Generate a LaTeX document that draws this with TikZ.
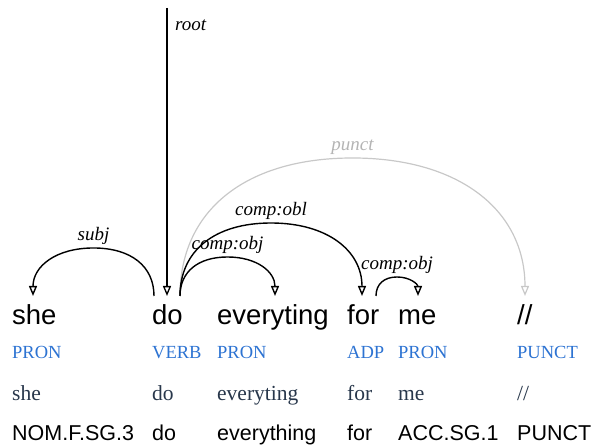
\documentclass[tikz,border=0pt]{standalone}
\usepackage{fontspec}
\usepackage{graphicx}
\setmainfont{Liberation Serif}
\newfontfamily\arialfont{Liberation Sans}
\usetikzlibrary{arrows.meta}

\definecolor{posblue}{RGB}{45,115,210}
\definecolor{lemmacol}{RGB}{40,55,75}
\definecolor{punctline}{RGB}{200,200,200}
\definecolor{punctlabel}{RGB}{180,180,180}

% dependency arc: [style]{from}{to}{half width}{height}{label}{label name}
\newcommand\deparc[7][]{%
  \draw[dep,#1] (#2) .. controls +(0,{0.62*#5}) and +({-0.62*#4},0) .. ++(#4,#5) coordinate (#7-top)
     .. controls +({0.62*#4},0) and +(0,{0.62*#5}) .. (#3);
  \node[rel,#1] (#7) at ([yshift=7]#7-top) {#6};
}

\begin{document}
\begin{tikzpicture}[x=1pt,y=1pt,
  wordform/.style={anchor=base west, inner sep=0pt, font=\arialfont\fontsize{27.5}{30}\selectfont},
  postag/.style={anchor=base west, inner sep=0pt, text=posblue, font=\fontsize{18.5}{20}\selectfont},
  lemmatag/.style={anchor=base west, inner sep=0pt, text=lemmacol, font=\fontsize{21.5}{23}\selectfont},
  feattag/.style={anchor=base west, inner sep=0pt, font=\arialfont\fontsize{21.5}{23}\selectfont},
  rel/.style={anchor=base, inner sep=0pt, font=\itshape\fontsize{19}{20}\selectfont},
  dep/.style={line width=1.4pt, -{Triangle[open,length=10pt,width=8pt]}},
  grayarc/.style={color=punctline, line width=1.2pt},
]
\useasboundingbox (0,0) rectangle (595,446);

% word forms
\node[wordform] (w1) at (12,121) {she};
\node[wordform] (w2) at (152,121) {do};
\node[wordform] (w3) at (217,121) {everyting};
\node[wordform] (w4) at (347,121) {for};
\node[wordform] (w5) at (398,121) {me};
\node[wordform] (w6) at (517,121) {//};

% parts of speech
\node[postag] (p1) at (12,87) {PRON};
\node[postag] (p2) at (152,87) {VERB};
\node[postag] (p3) at (217,87) {PRON};
\node[postag] (p4) at (347,87) {ADP};
\node[postag] (p5) at (398,87) {PRON};
\node[postag] (p6) at (517,87) {PUNCT};

% lemmas
\node[lemmatag] (l1) at (12,45) {she};
\node[lemmatag] (l2) at (152,45) {do};
\node[lemmatag] (l3) at (217,45) {everyting};
\node[lemmatag] (l4) at (347,45) {for};
\node[lemmatag] (l5) at (398,45) {me};
\node[lemmatag] (l6) at (517,45) {//};

% features
\node[feattag] (f1) at (12,5) {NOM.F.SG.3};
\node[feattag] (f2) at (152,5) {do};
\node[feattag] (f3) at (217,5) {everything};
\node[feattag] (f4) at (347,5) {for};
\node[feattag] (f5) at (398,5) {ACC.SG.1};
\node[feattag] (f6) at (517,5) {PUNCT};

% attachment points above the words
\coordinate (she-in) at (33,150);
\coordinate (do-l) at (154,150);
\coordinate (do-in) at (167,150);
\coordinate (do-r) at (180,150);
\coordinate (ev-in) at (275,150);
\coordinate (for-in) at (362,150);
\coordinate (for-r) at (376,150);
\coordinate (me-in) at (418,150);
\coordinate (sl-in) at (525,150);
\coordinate (root-top) at (167,438);

% root
\draw[dep, line width=1.3pt] (root-top) -- (do-in);
\node[rel, anchor=base west] (rootlbl) at (175,415) {root};

% arcs
\deparc[grayarc, text=punctlabel]{do-r}{sl-in}{172.5}{138}{punct}{lpunct}
\deparc{do-l}{she-in}{-60.5}{48}{subj}{lsubj}
\deparc{do-r}{for-in}{91}{73}{comp:obl}{lobl}
\deparc{do-r}{ev-in}{47.5}{39}{comp:obj}{lobj}
\deparc{for-r}{me-in}{21}{19}{comp:obj}{lobjb}
\end{tikzpicture}
\end{document}
